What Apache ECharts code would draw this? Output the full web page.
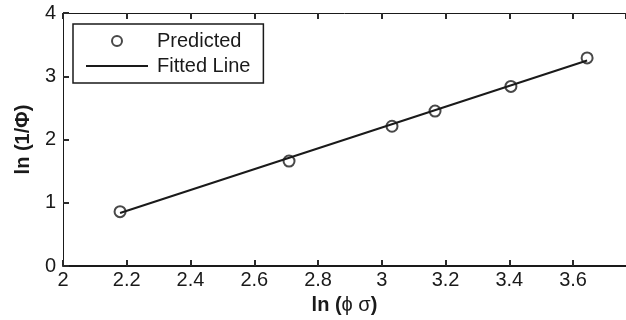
<!DOCTYPE html>
<html>
<head>
<meta charset="utf-8">
<script src="https://cdn.jsdelivr.net/npm/echarts@6/dist/echarts.min.js"></script>
<style>html,body{margin:0;padding:0;background:#fff}#c{width:626px;height:320px}</style>
</head>
<body>
<div id="c"></div>
<script>
// Data
const predX = [2.179, 2.709, 3.032, 3.167, 3.405, 3.644];
const predY = [0.86, 1.66, 2.21, 2.45, 2.84, 3.29];
const fitX = [2.179, 3.644];
const fitY = [0.84, 3.25];
const xTicks = [2, 2.2, 2.4, 2.6, 2.8, 3, 3.2, 3.4, 3.6];
const yTicks = [0, 1, 2, 3, 4];
const seriesNames = ['Predicted', 'Fitted Line'];
const xAxisMax = 3.766; // right edge of the (cropped) plot area

const INK = '#1a1a1a';
const FONT = 'Liberation Sans, Arial, sans-serif';
const chart = echarts.init(document.getElementById('c'), null, {renderer: 'canvas'});

function tick() {
  return {show: true, inside: true, length: 6, lineStyle: {color: '#2a2a2a', width: 2}};
}

chart.setOption({
  animation: false,
  textStyle: {fontFamily: FONT},
  grid: {left: 63, top: 13, bottom: 53, right: 0},
  legend: {
    left: 73, top: 24,
    orient: 'vertical',
    data: [
      {name: seriesNames[0]},
      {name: seriesNames[1], icon: 'path://M0,0h62v2h-62z'}
    ],
    itemWidth: 62, itemHeight: 10, itemGap: 5,
    padding: [7, 13, 7, 13],
    borderColor: INK, borderWidth: 1.5,
    backgroundColor: '#fff',
    textStyle: {fontFamily: FONT, fontSize: 20, color: INK, lineHeight: 20, padding: [0, 0, 0, 4]}
  },
  xAxis: [{
    type: 'value', min: xTicks[0], max: xAxisMax, interval: 0.2, position: 'bottom',
    splitLine: {show: false},
    axisLine: {show: true, lineStyle: {color: INK, width: 2}},
    axisTick: tick(),
    axisLabel: {fontFamily: FONT, fontSize: 20, color: INK, margin: 4, showMaxLabel: false,
      formatter: v => String(Math.round(v * 10) / 10)},
    name: '{b|ln (}{g|ϕ σ}{b|)}', nameLocation: 'middle', nameGap: 25,
    nameTextStyle: {rich: {
      b: {fontFamily: FONT, fontSize: 20, fontWeight: 'bold', color: INK},
      g: {fontFamily: FONT, fontSize: 20, color: INK}
    }}
  }, {
    type: 'value', min: xTicks[0], max: xAxisMax, interval: 0.2, position: 'top',
    splitLine: {show: false},
    axisLine: {show: true, lineStyle: {color: INK, width: 1}},
    axisTick: tick(),
    axisLabel: {show: false}
  }],
  yAxis: {
    type: 'value', min: yTicks[0], max: yTicks[yTicks.length - 1], interval: 1,
    splitLine: {show: false},
    axisLine: {show: true, lineStyle: {color: INK, width: 1}},
    axisTick: tick(),
    axisLabel: {fontFamily: FONT, fontSize: 20, color: INK, margin: 7},
    name: 'ln (1/Φ)', nameLocation: 'middle', nameGap: 27,
    nameTextStyle: {fontFamily: FONT, fontSize: 20, fontWeight: 'bold', color: INK}
  },
  series: [{
    name: seriesNames[0], type: 'scatter',
    data: predX.map((x, i) => [x, predY[i]]),
    symbol: 'circle', symbolSize: 11, z: 3,
    itemStyle: {color: 'rgba(255,255,255,0)', borderColor: INK, borderWidth: 2}
  }, {
    name: seriesNames[1], type: 'line',
    data: fitX.map((x, i) => [x, fitY[i]]),
    showSymbol: false, symbol: 'none',
    lineStyle: {color: INK, width: 2},
    itemStyle: {color: INK}
  }]
});
</script>
</body>
</html>
